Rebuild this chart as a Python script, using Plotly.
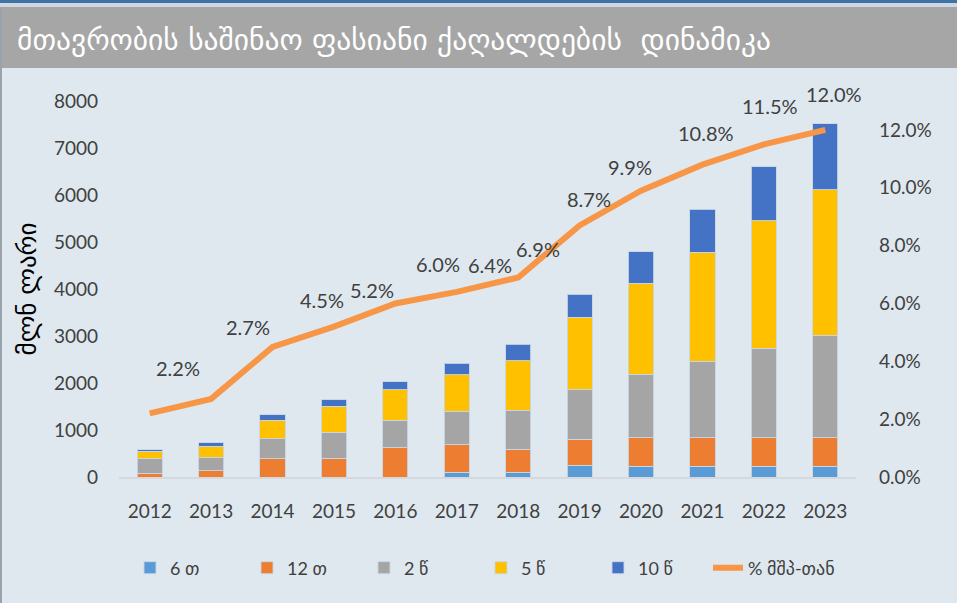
import plotly.graph_objects as go

# ---- data ----
years = ["2012", "2013", "2014", "2015", "2016", "2017", "2018", "2019", "2020", "2021", "2022", "2023"]
m6 = [0, 0, 0, 0, 0, 100, 100, 250, 225, 225, 225, 225]
m12 = [85, 130, 385, 400, 625, 590, 490, 550, 605, 605, 605, 605]
y2 = [305, 295, 430, 550, 580, 710, 830, 1065, 1360, 1630, 1910, 2185]
y5 = [155, 225, 390, 555, 650, 775, 1055, 1530, 1935, 2320, 2710, 3100]
y10 = [35, 80, 120, 135, 170, 250, 350, 490, 670, 920, 1155, 1400]
gdp_pct = [2.2, 2.7, 4.5, 5.2, 6.0, 6.4, 6.9, 8.7, 9.9, 10.8, 11.5, 12.0]

series_names = ["6 თ", "12 თ", "2 წ", "5 წ", "10 წ"]
line_name = "% მშპ-თან"
title_text = "მთავრობის საშინაო ფასიანი ქაღალდების  დინამიკა"
yaxis_title = "მლნ ლარი"

# ---- styles ----
bar_colors = ["#5B9BD5", "#ED7D31", "#A5A5A5", "#FFC000", "#4472C4"]
line_color = "#F79646"
bg = "#DFE8EF"
txt = "#404040"
FONT = "Lato, 'DejaVu Sans', sans-serif"
# label offsets (px) relative to each line point: (dx, dy up)
label_offsets = [(28, 45), (37, 72), (49, 47), (38, 37), (43, 39), (33, 27),
                 (20, 28), (9, 26), (-11, 24), (4, 32), (6, 38), (9, 36)]

fig = go.Figure()
for name, vals, col in zip(series_names, [m6, m12, y2, y5, y10], bar_colors):
    fig.add_trace(go.Bar(x=years, y=vals, name=name, marker_color=col, legend="legend",
                         marker_line=dict(color="rgba(200,214,228,0.9)", width=1)))

fig.add_trace(go.Scatter(x=years, y=[v / 100 for v in gdp_pct], name=line_name, yaxis="y2",
                         legend="legend2", mode="lines", line=dict(color=line_color, width=6)))

annotations = []
for i, (v, (dx, dy)) in enumerate(zip(gdp_pct, label_offsets)):
    annotations.append(dict(x=i, y=v / 100, xref="x", yref="y2", text=f"{v:.1f}%",
                            showarrow=False, xshift=dx, yshift=dy,
                            font=dict(family=FONT, size=20, color=txt)))

def px_x(X):
    return (X - 119) / 737

def px_y(Y):
    return (477 - Y) / 376

# title annotation
annotations.append(dict(x=px_x(15), y=px_y(40), xref="paper", yref="paper",
                        xanchor="left", yanchor="middle", showarrow=False, text=title_text,
                        font=dict(family="'DejaVu Sans', sans-serif", size=29.5, color="white")))

shapes = [
    dict(type="rect", xref="paper", yref="paper", x0=px_x(0), x1=px_x(957), y0=px_y(3), y1=px_y(0),
         fillcolor="#3F72A6", line_width=0, layer="below"),
    dict(type="rect", xref="paper", yref="paper", x0=px_x(0), x1=px_x(957), y0=px_y(7), y1=px_y(3),
         fillcolor="#CFD8E0", line_width=0, layer="below"),
    dict(type="rect", xref="paper", yref="paper", x0=px_x(0), x1=px_x(957), y0=px_y(68), y1=px_y(7),
         fillcolor="#A6A6A6", line_width=0, layer="below"),
    dict(type="rect", xref="paper", yref="paper", x0=px_x(0), x1=px_x(2), y0=px_y(603), y1=px_y(7),
         fillcolor="#9AA3AB", line_width=0, layer="below"),
]

legend_font = dict(family=FONT, size=18, color=txt)

fig.update_layout(
    width=957, height=603,
    barmode="stack", bargap=0.59,
    paper_bgcolor=bg, plot_bgcolor=bg,
    margin=dict(l=119, r=101, t=101, b=126, autoexpand=False),
    font=dict(family=FONT, size=19, color=txt),
    xaxis=dict(type="category", range=[-0.5, 11.5], showline=True, linecolor="#D5D9DD", linewidth=2,
               showgrid=False, ticks="", ticklabelstandoff=16, automargin=False,
               tickfont=dict(size=19, color=txt)),
    yaxis=dict(range=[0, 8000], dtick=1000, showgrid=False, zeroline=False, showline=False,
               ticks="", ticklabelstandoff=20, automargin=False,
               tickfont=dict(size=19, color=txt),
               title=dict(text=yaxis_title, standoff=10,
                          font=dict(family="'DejaVu Sans', sans-serif", size=25, color="#000000"))),
    yaxis2=dict(overlaying="y", side="right", range=[0, 0.13],
                tickvals=[0, 0.02, 0.04, 0.06, 0.08, 0.10, 0.12], tickformat=".1%",
                showgrid=False, zeroline=False, showline=False, ticks="", ticklabelstandoff=22,
                automargin=False, tickfont=dict(size=19, color=txt)),
    legend=dict(orientation="h", x=px_x(130), xanchor="left", y=px_y(568), yanchor="middle",
                traceorder="normal", entrywidth=72, entrywidthmode="pixels",
                font=legend_font, bgcolor="rgba(0,0,0,0)"),
    legend2=dict(orientation="h", x=px_x(708), xanchor="left", y=px_y(568), yanchor="middle",
                 font=legend_font, bgcolor="rgba(0,0,0,0)"),
    annotations=annotations,
    shapes=shapes,
    showlegend=True,
)

fig.write_html("out.html", config={"displayModeBar": False},
               post_script="document.body.style.margin='0';document.body.style.overflow='hidden';")
